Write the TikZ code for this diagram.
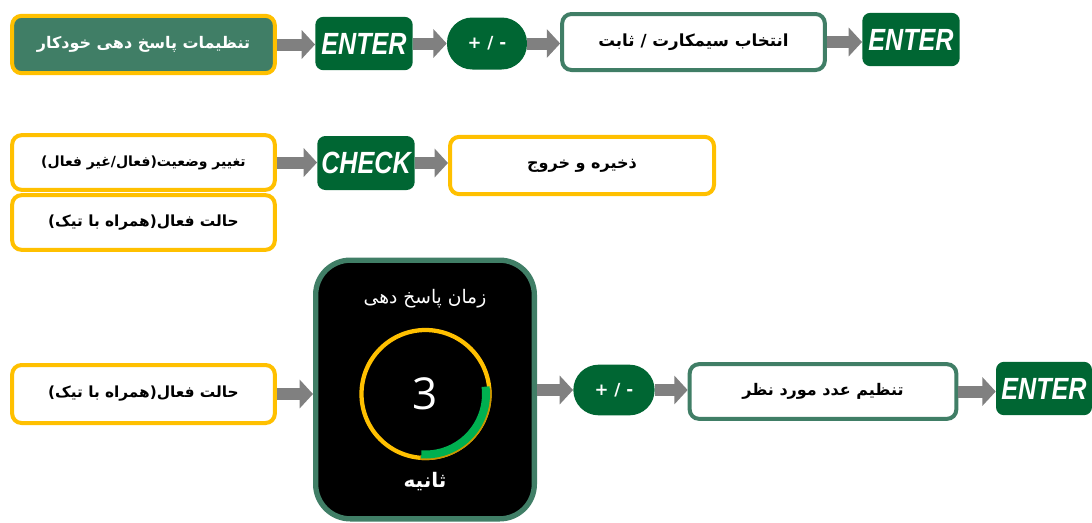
\documentclass[tikz,border=0pt]{standalone}
\usepackage{fontspec}
\usetikzlibrary{positioning, arrows.meta}
\TeXXeTstate=1
\setmainfont{DejaVu Sans}
\newfontfamily\fafont[Script=Arabic]{DejaVu Sans}
\newfontfamily\keyfont[FakeStretch=0.82]{Liberation Sans}
\newfontfamily\numfont{Open Sans}

\definecolor{ylw}{RGB}{255,192,0}
\definecolor{darkgold}{RGB}{200,150,0}
\definecolor{midgreen}{RGB}{64,126,102}
\definecolor{keygreen}{RGB}{0,102,51}
\definecolor{arcgreen}{RGB}{0,176,80}
\definecolor{arrowgray}{RGB}{128,128,128}

\begin{document}
\begin{tikzpicture}[
    x=0.75pt, y=-0.75pt,
    yellowbox/.style={draw=ylw, line width=3pt, fill=white, rounded corners=7pt,
        minimum width=197pt, minimum height=42pt,
        font=\fafont\bfseries\fontsize{11.5}{13}\selectfont},
    greenbox/.style={yellowbox, draw=midgreen},
    keybox/.style={fill=keygreen, rounded corners=6pt, inner sep=0pt,
        minimum width=73pt, minimum height=40pt, text=white,
        font=\keyfont\bfseries\itshape\fontsize{23}{24}\selectfont},
    pmbox/.style={fill=keygreen, rounded corners=19pt, inner sep=0pt,
        minimum width=60pt, minimum height=39pt, text=white,
        font=\bfseries\fontsize{12.5}{14}\selectfont},
    flow/.style={draw=arrowgray, line width=9pt, -{Triangle[length=10pt, width=21pt]}}
]
    \useasboundingbox (0,0) rectangle (1092,522);

    % row 1
    \node[yellowbox, fill=midgreen, text=white, minimum height=43pt, font=\fafont\bfseries\fontsize{12}{14}\selectfont] (autoset) at (143.5,44.5) {\beginR تنظیمات پاسخ دهی خودکار\endR};
    \node[keybox] (enterA) at (364,43.5) {ENTER};
    \node[pmbox] (pmA) at (487,43.5) {+ / -};
    \node[greenbox, minimum height=42pt, font=\fafont\bfseries\fontsize{12.5}{14}\selectfont] (simsel) at (693.5,42) {\beginR انتخاب سیمکارت / ثابت\endR};
    \node[keybox] (enterB) at (911,39.5) {ENTER};

    \draw[flow] (autoset.east) -- (autoset.east -| enterA.west);
    \draw[flow] (enterA.east) -- (enterA.east -| pmA.west);
    \draw[flow] (pmA.east) -- (pmA.east -| simsel.west);
    \draw[flow] (simsel.east) -- (simsel.east -| enterB.west);

    % row 2
    \node[yellowbox, minimum height=41pt, font=\fafont\bfseries\fontsize{10.5}{12}\selectfont] (toggle) at (143.5,162.5) {\beginR تغییر وضعیت(فعال/غیر فعال)\endR};
    \node[yellowbox, minimum height=41pt] (activeA) at (143.5,222.5) {\beginR حالت فعال(همراه با تیک)\endR};
    \node[keybox, minimum height=40.5pt] (check) at (366,163) {CHECK};
    \node[yellowbox, minimum width=198pt, minimum height=43pt, font=\fafont\bfseries\fontsize{12}{14}\selectfont] (saveexit) at (582,165.5) {\beginR ذخیره و خروج\endR};

    \draw[flow] (toggle.east) -- (toggle.east -| check.west);
    \draw[flow] (check.east) -- (check.east -| saveexit.west);

    % row 3
    \node[yellowbox, minimum height=43.5pt] (activeB) at (143.5,394) {\beginR حالت فعال(همراه با تیک)\endR};
    \node[draw=midgreen, line width=4pt, fill=black, rounded corners=26pt,
        minimum width=164pt, minimum height=194pt] (device) at (425,389.5) {};
    \node[pmbox, minimum height=38pt, minimum width=61pt] (pmB) at (614,390) {+ / -};
    \node[greenbox, minimum width=200pt, minimum height=41pt, font=\fafont\bfseries\fontsize{12}{14}\selectfont] (setnum) at (823,391.5) {\beginR تنظیم عدد مورد نظر\endR};
    \node[keybox, minimum width=72pt] (enterC) at (1044,388.5) {ENTER};

    \draw[flow] (activeB.east) -- (activeB.east -| device.west);
    \draw[flow] (device.east |- pmB.east) -- (pmB.west);
    \draw[flow] (pmB.east) -- (pmB.east -| setnum.west);
    \draw[flow] (setnum.east) -- (setnum.east -| enterC.west);

    % dial
    \coordinate (dial) at (425.5,394);
    \node[text=white, font=\fafont\fontsize{14}{16}\selectfont] (dialtitle) at (425,299) {\beginR زمان پاسخ دهی\endR};
    \draw[ylw, line width=3.2pt] (dial) circle[radius=64];
    \draw[darkgold, line width=3.2pt] ([shift={(-5:64)}]dial) arc[start angle=-5, end angle=95, radius=64];
    \draw[arcgreen, line width=6pt] ([shift={(-7:60.5)}]dial) arc[start angle=-7, end angle=94, radius=60.5];
    \node[text=white, font=\numfont\fontsize{33}{35}\selectfont] (dialnum) at (dial) {3};
    \node[text=white, font=\fafont\bfseries\fontsize{15}{17}\selectfont] (dialunit) at (425,482) {\beginR ثانیه\endR};

\end{tikzpicture}
\end{document}
